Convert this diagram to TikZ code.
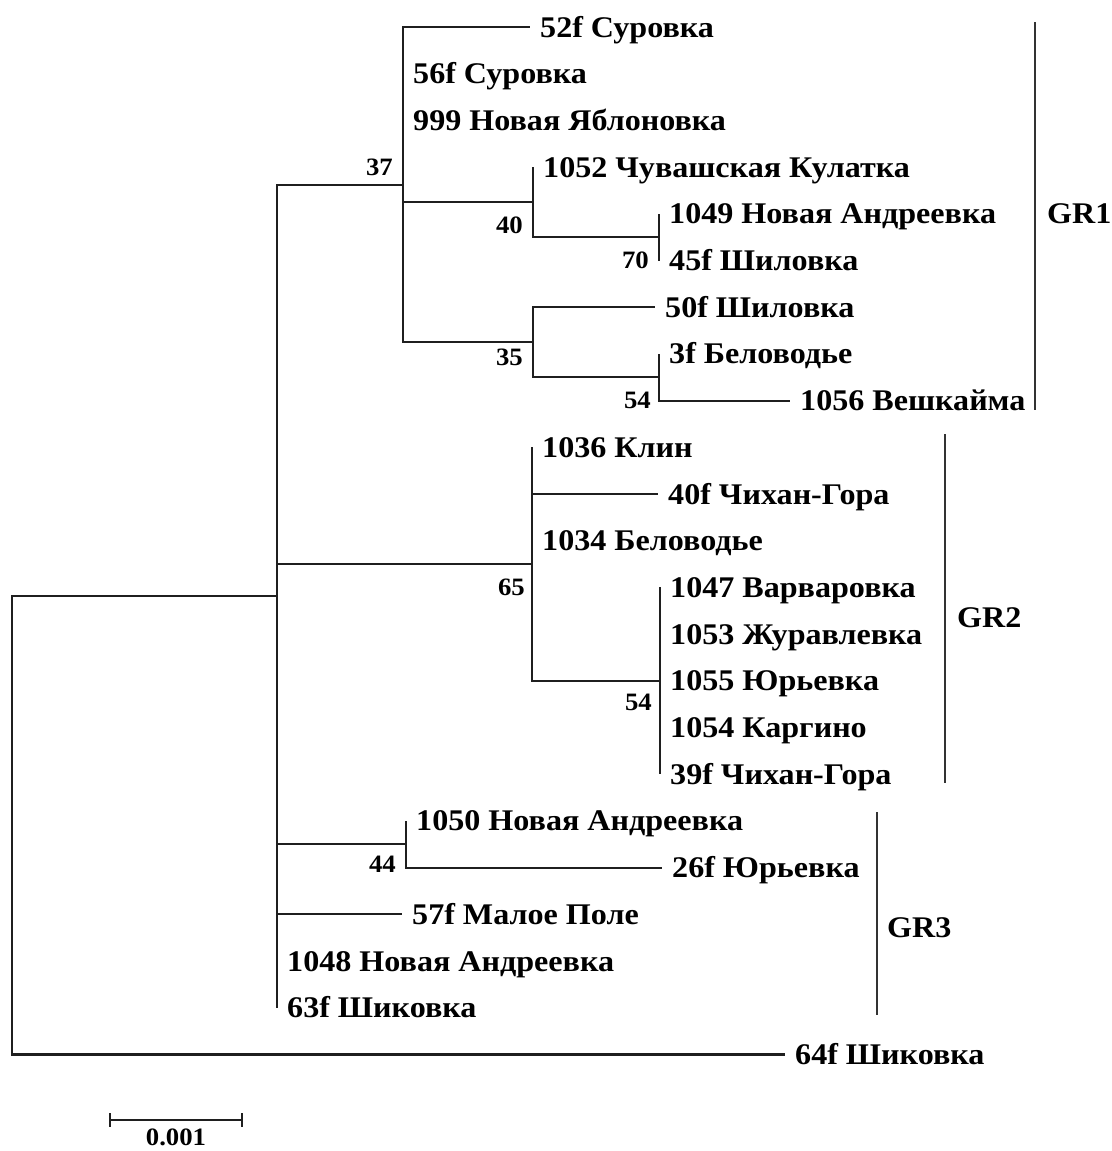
\documentclass[tikz,border=0pt]{standalone}
\usepackage{fontspec}
\setmainfont{Liberation Serif}[FakeStretch=1.07]
\usetikzlibrary{calc}
\begin{document}
\begin{tikzpicture}[x=1pt,y=-1pt,
  edge/.style={line width=2.2pt, draw=black!88},
  grbar/.style={line width=2.2pt, draw=black!80},
  leaf/.style={anchor=west, inner xsep=10pt, inner ysep=0pt, text height=20pt, text depth=0pt,
    font=\bfseries\fontsize{30}{36}\selectfont},
  grlab/.style={anchor=west, inner xsep=0pt, inner ysep=0pt, text height=20pt, text depth=0pt,
    font=\bfseries\fontsize{30}{36}\selectfont},
  bs/.style={anchor=base east, inner sep=0pt, font=\bfseries\fontsize{25}{30}\selectfont}]
\useasboundingbox (0,0) rectangle (1111,1151);
% internal nodes
\coordinate (root) at (12,825.3);
\coordinate (pA) at (277,596.2);
\coordinate (p37) at (403,184.6);
\coordinate (p40) at (533,202.1);
\coordinate (p70) at (659,237.15);
\coordinate (p35) at (533,342.2);
\coordinate (p54) at (659,377.25);
\coordinate (p65) at (532,564.05);
\coordinate (p54b) at (660,680.8);
\coordinate (p44) at (406,844.25);
% leaves
\node[leaf] (l52) at (530,27.0) {52f Суровка};
\node[leaf] (l56) at (403,73.7) {56f Суровка};
\node[leaf] (l999) at (403,120.4) {999 Новая Яблоновка};
\node[leaf] (l1052) at (533,167.1) {1052 Чувашская Кулатка};
\node[leaf] (l1049) at (659,213.8) {1049 Новая Андреевка};
\node[leaf] (l45) at (659,260.5) {45f Шиловка};
\node[leaf] (l50) at (655,307.2) {50f Шиловка};
\node[leaf] (l3) at (659,353.9) {3f Беловодье};
\node[leaf] (l1056) at (790,400.6) {1056 Вешкайма};
\node[leaf] (l1036) at (532,447.3) {1036 Клин};
\node[leaf] (l40) at (658,494.0) {40f Чихан-Гора};
\node[leaf] (l1034) at (532,540.7) {1034 Беловодье};
\node[leaf] (l1047) at (660,587.4) {1047 Варваровка};
\node[leaf] (l1053) at (660,634.1) {1053 Журавлевка};
\node[leaf] (l1055) at (660,680.8) {1055 Юрьевка};
\node[leaf] (l1054) at (660,727.5) {1054 Каргино};
\node[leaf] (l39) at (660,774.2) {39f Чихан-Гора};
\node[leaf] (l1050) at (406,820.9) {1050 Новая Андреевка};
\node[leaf] (l26) at (662,867.6) {26f Юрьевка};
\node[leaf] (l57) at (402,914.3) {57f Малое Поле};
\node[leaf] (l1048) at (277,961.0) {1048 Новая Андреевка};
\node[leaf] (l63) at (277,1007.7) {63f Шиковка};
\node[leaf] (l64) at (785,1054.4) {64f Шиковка};
% branches
\draw[edge] (root) |- (pA);
\draw[edge] (root) |- (l64.west);
\draw[edge] (pA) |- (p37);
\draw[edge] (pA) |- (p65);
\draw[edge] (pA) |- (p44);
\draw[edge] (pA) |- (l57.west);
\draw[edge] (pA) |- (l1048.west);
\draw[edge] (pA) |- (l63.west);
\draw[edge] (p37) |- (l52.west);
\draw[edge] (p37) |- (l56.west);
\draw[edge] (p37) |- (l999.west);
\draw[edge] (p37) |- (p40);
\draw[edge] (p37) |- (p35);
\draw[edge] (p40) |- (l1052.west);
\draw[edge] (p40) |- (p70);
\draw[edge] (p70) |- (l1049.west);
\draw[edge] (p70) |- (l45.west);
\draw[edge] (p35) |- (l50.west);
\draw[edge] (p35) |- (p54);
\draw[edge] (p54) |- (l3.west);
\draw[edge] (p54) |- (l1056.west);
\draw[edge] (p65) |- (l1036.west);
\draw[edge] (p65) |- (l40.west);
\draw[edge] (p65) |- (l1034.west);
\draw[edge] (p65) |- (p54b);
\draw[edge] (p54b) |- (l1047.west);
\draw[edge] (p54b) |- (l1053.west);
\draw[edge] (p54b) |- (l1055.west);
\draw[edge] (p54b) |- (l1054.west);
\draw[edge] (p54b) |- (l39.west);
\draw[edge] (p44) |- (l1050.west);
\draw[edge] (p44) |- (l26.west);
% bootstrap values
\node[bs] (b37) at (393,175) {37};
\node[bs] (b40) at (523,233) {40};
\node[bs] (b70) at (649,268) {70};
\node[bs] (b35) at (523,365) {35};
\node[bs] (b54) at (651,408) {54};
\node[bs] (b65) at (525,595) {65};
\node[bs] (b54b) at (652,710) {54};
\node[bs] (b44) at (396,872) {44};
% group bars
\coordinate (g1t) at (1035,22);
\coordinate (g1b) at (1035,410);
\draw[grbar] (g1t) -- (g1b);
\node[grlab] (gr1) at (1047,213) {GR1};
\coordinate (g2t) at (945,434);
\coordinate (g2b) at (945,783);
\draw[grbar] (g2t) -- (g2b);
\node[grlab] (gr2) at (957,617) {GR2};
\coordinate (g3t) at (877,812);
\coordinate (g3b) at (877,1015);
\draw[grbar] (g3t) -- (g3b);
\node[grlab] (gr3) at (887,927) {GR3};
% scale bar
\coordinate (sa) at (110,1120);
\coordinate (sb) at (242,1120);
\draw[edge] (sa) -- (sb);
\draw[edge] ($(sa)+(0,-7)$) -- ($(sa)+(0,7)$);
\draw[edge] ($(sb)+(0,-7)$) -- ($(sb)+(0,7)$);
\node[anchor=base, inner sep=0pt, font=\bfseries\fontsize{25}{30}\selectfont] (sl) at (176,1145) {0.001};
\end{tikzpicture}
\end{document}
